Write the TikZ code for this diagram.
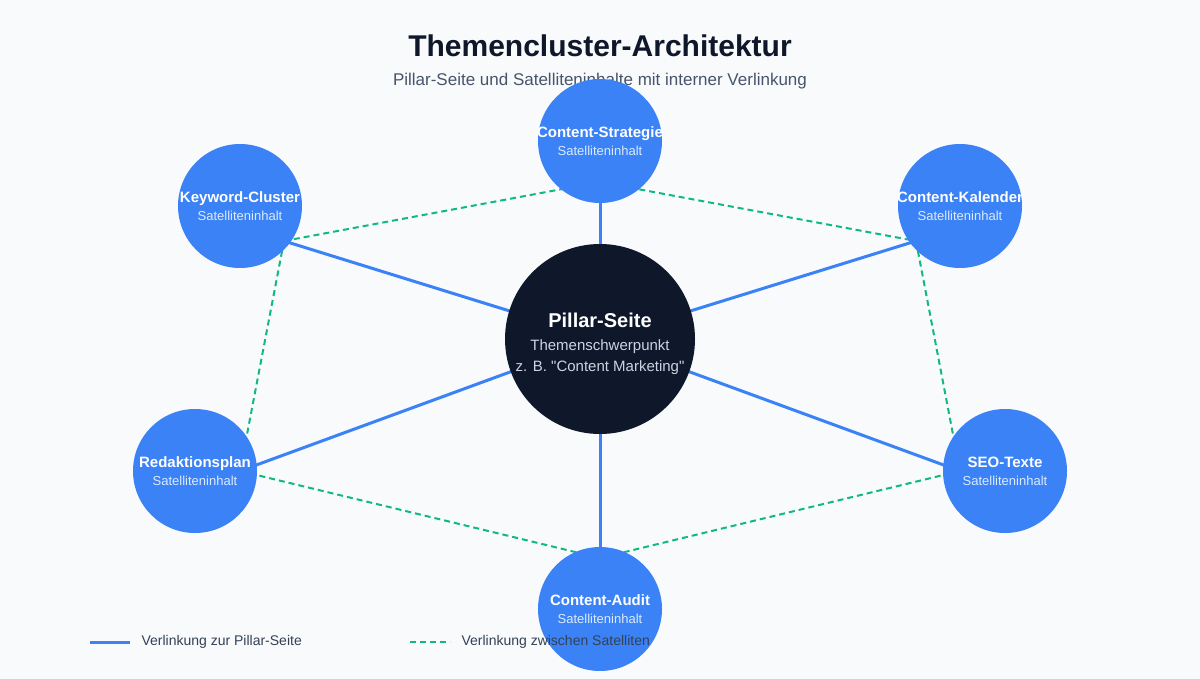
\documentclass[tikz,border=0pt]{standalone}
\usepackage{fontspec}
\setmainfont{Liberation Sans}
\usetikzlibrary{calc}
\pgfdeclarelayer{back}
\pgfdeclarelayer{bg}
\pgfsetlayers{back,bg,main}
\definecolor{bgc}{HTML}{F8FAFC}
\definecolor{satblue}{HTML}{3B82F6}
\definecolor{linkgreen}{HTML}{10B981}
\definecolor{pillarc}{HTML}{0F172A}
\definecolor{titlec}{HTML}{0F172A}
\definecolor{subc}{HTML}{475569}
\definecolor{legc}{HTML}{334155}
\definecolor{satsubc}{HTML}{DBEAFE}
\definecolor{pilsubc}{HTML}{CBD5E1}
\tikzset{
  sat/.style={circle, fill=satblue, minimum size=124pt, inner sep=0pt, align=center,
    text=white, font=\fontsize{13}{18}\selectfont},
  pillar/.style={circle, fill=pillarc, minimum size=190pt, inner sep=0pt},
  pillarlink/.style={draw=satblue, line width=3pt},
  satlink/.style={draw=linkgreen, line width=2pt, dash pattern=on 6pt off 4pt},
  titletext/.style={font=\bfseries\fontsize{30}{36}\selectfont, text=titlec},
  subtitletext/.style={font=\fontsize{17}{20}\selectfont, text=subc},
  legendtext/.style={font=\fontsize{14}{16}\selectfont, text=legc, anchor=west},
  ptitle/.style={font=\bfseries\fontsize{20}{24}\selectfont, text=white},
  psub/.style={font=\fontsize{15}{18}\selectfont, text=pilsubc},
}
\newcommand{\sattitle}[1]{\makebox[0pt]{\bfseries\fontsize{15}{18}\selectfont #1}}
\newcommand{\satsubline}[1]{\makebox[0pt]{\color{satsubc}\fontsize{13}{18}\selectfont #1}}
\begin{document}
\begin{tikzpicture}[x=1pt,y=-1pt]
\begin{pgfonlayer}{back}
\fill[bgc] (0,0) rectangle (1200,679);
\end{pgfonlayer}
\useasboundingbox (0,0) rectangle (1200,679);

% title
\node[titletext] (title) at (600,46) {Themencluster-Architektur};
\node[subtitletext] (subtitle) at (600,81) {Pillar-Seite und Satelliteninhalte mit interner Verlinkung};

% pillar
\node[pillar] (pillar) at (600,339) {};
\node[ptitle] (ptitle) at ($(pillar)+(0,-19)$) {Pillar-Seite};
\node[psub] (psub1) at ($(pillar)+(0,8)$) {Themenschwerpunkt};
\node[psub] (psub2) at ($(pillar)+(0,29)$) {z. B. \textquotedbl Content Marketing\textquotedbl};

% satellites
\node[sat] (cs) at (600,141) {\sattitle{Content-Strategie}\\\satsubline{Satelliteninhalt}};
\node[sat] (kc) at (240,206) {\sattitle{Keyword-Cluster}\\\satsubline{Satelliteninhalt}};
\node[sat] (ck) at (960,206) {\sattitle{Content-Kalender}\\\satsubline{Satelliteninhalt}};
\node[sat] (rp) at (195,471) {\sattitle{Redaktionsplan}\\\satsubline{Satelliteninhalt}};
\node[sat] (seo) at (1005,471) {\sattitle{SEO-Texte}\\\satsubline{Satelliteninhalt}};
\node[sat] (ca) at (600,609) {\sattitle{Content-Audit}\\\satsubline{Satelliteninhalt}};

% attachment points (hidden under the satellites)
\coordinate (cs-p) at ($(cs)+(0,41)$);
\coordinate (kc-p) at ($(kc)+(44,35)$);
\coordinate (ck-p) at ($(ck)+(-44,35)$);
\coordinate (rp-p) at ($(rp)+(45,0)$);
\coordinate (seo-p) at ($(seo)+(-45,0)$);
\coordinate (ca-p) at ($(ca)+(0,-51)$);

\begin{pgfonlayer}{bg}
  \foreach \s in {cs,kc,ck,rp,seo,ca}
    \draw[pillarlink] (pillar.center) -- (\s-p);
  \draw[satlink] (kc-p) -- (cs-p);
  \draw[satlink] (cs-p) -- (ck-p);
  \draw[satlink] (kc-p) -- (rp-p);
  \draw[satlink] (ck-p) -- (seo-p);
  \draw[satlink] (rp-p) -- (ca-p);
  \draw[satlink] (seo-p) -- (ca-p);
\end{pgfonlayer}

% legend
\coordinate (la1) at (90,642);
\coordinate (la2) at (130,642);
\draw[pillarlink] (la1) -- (la2);
\node[legendtext] (lt1) at (138,642) {Verlinkung zur Pillar-Seite};
\coordinate (lb1) at (410,642);
\coordinate (lb2) at (450,642);
\draw[satlink] (lb1) -- (lb2);
\node[legendtext] (lt2) at (458,642) {Verlinkung zwischen Satelliten};
\end{tikzpicture}
\end{document}
